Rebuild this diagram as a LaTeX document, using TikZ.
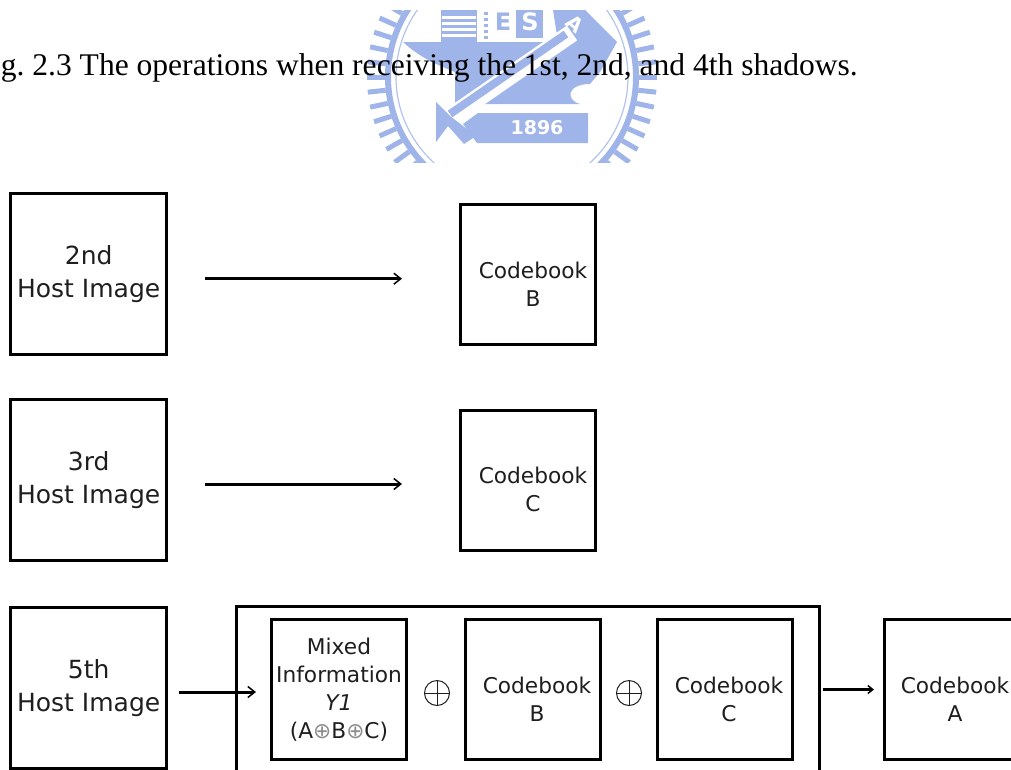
\documentclass[tikz,border=0pt]{standalone}
\usepackage{fontspec}
\setmainfont{DejaVu Sans}
\newfontfamily\capfont{Liberation Serif}
\usetikzlibrary{arrows.meta}
\definecolor{seal}{HTML}{9FB4E8}
\definecolor{inkk}{HTML}{1E1E1E}
\tikzset{
 x=1pt,y=-1pt,
 hostbox/.style={draw=black,line width=3pt,minimum width=155.5pt,minimum height=161pt,inner sep=0pt,align=center,text=inkk,font=\fontsize{25}{33}\selectfont},
 bookbox/.style={draw=black,line width=3pt,minimum width=135pt,minimum height=140pt,inner sep=0pt,align=center,text=inkk,font=\fontsize{21.7}{28}\selectfont},
 booktext/.style={align=center,text=inkk,font=\fontsize{21.7}{28}\selectfont,inner sep=0pt},
 conn/.style={line width=3pt,-{Straight Barb[length=7pt,width=11pt,line width=1.5pt]}},
 xorsign/.style={circle,draw=inkk,line width=1pt,minimum size=25pt,inner sep=0pt,
   path picture={\draw[inkk,line width=1pt] (path picture bounding box.north)--(path picture bounding box.south) (path picture bounding box.west)--(path picture bounding box.east);}},
}
\newcommand{\xr}{{\color{black!45}⊕}}
\begin{document}
\begin{tikzpicture}
\useasboundingbox (0,0) rectangle (1011,769);
\clip (0,0) rectangle (1011,769);
% watermark
\begin{scope}
\clip (350,10) rectangle (680,162);
\foreach \a in {0,6,...,354}{
  \draw[seal,line width=5pt] (512,77) ++(\a:127pt) -- ++(\a:18pt);
}
\draw[seal,line width=6pt] (512,77) circle[radius=124pt];
\draw[seal!80,line width=1.2pt] (512,77) circle[radius=116pt];
% top blocks
\fill[seal] (441,0) rectangle (477,42);
\foreach \yy in {16,22,28,34}{\fill[white] (442,\yy) rectangle (476,\yy+2.5);}
\foreach \yy in {12,18,24,30,36}{\fill[seal] (484,\yy) rectangle (488,\yy+3);}
\node[inner sep=0pt,text=seal,font=\fontsize{24}{24}\selectfont\bfseries] (letE) at (503,22) {E};
\fill[seal] (516,0) rectangle (543,38);
\node[inner sep=0pt,text=white,font=\fontsize{24}{24}\selectfont\bfseries] (letS) at (530,22) {S};
% anvil
\fill[seal] (403,42) -- (558,42) -- (553,10) -- (585,10) -- (617,42) -- (600,72) -- (590,84)
  .. controls (567,84) and (565,100) .. (580,104) -- (455,104) -- (455,72) .. controls (440,66) and (420,58) .. cycle;
\node[inner sep=0pt,text=white,rotate=-40,font=\fontsize{20}{20}\selectfont\bfseries] (letA) at (575,24) {A};
% sword
\draw[white,line width=18pt] (572,33) -- (446,120);
\draw[seal,line width=8pt] (566,34) -- (450,114);
\fill[seal] (436,102) -- (450,116) -- (476,136) -- (464,144) -- (448,126) -- (436,142) -- cycle;
% year
\fill[seal] (478,113) -- (588,113) -- (588,143) -- (477,143) -- (463,124) -- cycle;
\node[inner sep=0pt,text=white,font=\fontsize{19}{19}\selectfont\bfseries] (year) at (537,128) {1896};
\end{scope}
% caption
\node[anchor=base east,inner sep=0pt,font=\capfont\frenchspacing\fontsize{31.55}{31.55}\selectfont] (cap) at (858,75) {g. 2.3 The operations when receiving the 1st, 2nd, and 4th shadows.};
% row 1
\node[hostbox] (h2) at (88.7,273.7) {2nd\\Host Image};
\node[bookbox,label={[booktext,xshift=5pt,yshift=-10pt]center:{Codebook\\B}}] (cb) at (528,274.5) {};
\draw[conn,shorten <=37pt,shorten >=57pt] ([yshift=-5pt]h2.east) -- ([yshift=-4.2pt]cb.west);
% row 2
\node[hostbox] (h3) at (88.7,480) {3rd\\Host Image};
\node[bookbox,label={[booktext,xshift=5pt,yshift=-9pt]center:{Codebook\\C}}] (cc) at (528,480.5) {};
\draw[conn,shorten <=37pt,shorten >=57pt] ([yshift=-4pt]h3.east) -- ([yshift=-3.5pt]cc.west);
% row 3
\node[hostbox] (h5) at (88.7,688) {5th\\Host Image};
\node[draw=black,line width=3pt,minimum width=583pt,minimum height=197.6pt,inner sep=0pt] (outer) at (527.5,705) {};
\node[bookbox,font=\fontsize{21.7}{28}\selectfont] (mix) at (339,689.5) {Mixed\\Information\\\textit{Y1}\\(A\xr{}B\xr{}C)};
\node[xorsign] (x1) at (437,693) {};
\node[bookbox,label={[booktext,xshift=4pt,yshift=-9.5pt]center:{Codebook\\B}}] (b3) at (533,689.5) {};
\node[xorsign] (x2) at (629,693) {};
\node[bookbox,label={[booktext,xshift=4pt,yshift=-9.5pt]center:{Codebook\\C}}] (c3) at (725,689.5) {};
\node[bookbox,label={[booktext,xshift=3pt,yshift=-9.5pt]center:{Codebook\\A}}] (a3) at (952,689.5) {};
\draw[conn,shorten <=11pt,shorten >=14pt] ([yshift=-4pt]h5.east) -- ([yshift=-2.5pt]mix.west);
\draw[conn,shorten <=2pt,shorten >=9pt,-{Straight Barb[length=5pt,width=8pt,line width=1.5pt]}] ([yshift=15.5pt]outer.east) -- (a3.west);
\end{tikzpicture}
\end{document}
